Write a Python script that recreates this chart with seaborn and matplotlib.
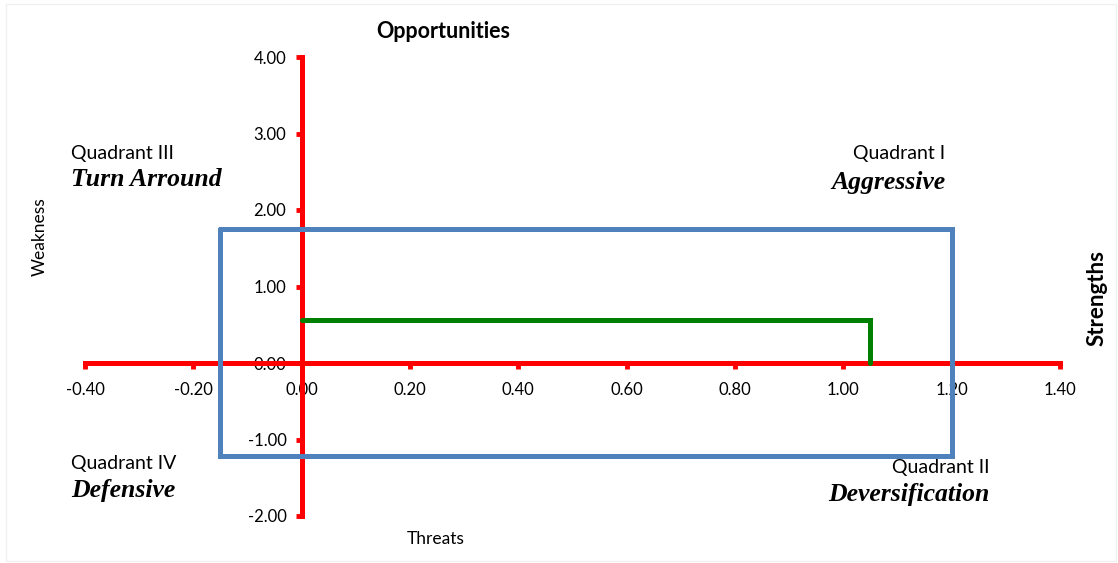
import matplotlib
matplotlib.use('Agg')
import matplotlib.pyplot as plt
import seaborn as sns
import numpy as np
import pandas as pd
from matplotlib.patches import Rectangle

# Data
x_ticks = [-0.40, -0.20, 0.00, 0.20, 0.40, 0.60, 0.80, 1.00, 1.20, 1.40]
y_ticks = [-2.00, -1.00, 0.00, 1.00, 2.00, 3.00, 4.00]
box_x = [-0.15, 1.20, 1.20, -0.15, -0.15]
box_y = [1.75, 1.75, -1.22, -1.22, 1.75]
pos_x = [0.00, 1.05, 1.05]
pos_y = [0.56, 0.56, 0.00]

sns.set_theme(style="white")
plt.rcParams['font.family'] = ['Lato', 'DejaVu Sans']
plt.rcParams['text.color'] = 'black'

fig = plt.figure(figsize=(11.18, 5.63), dpi=100)
ax = fig.add_axes([85 / 1118, 1 - 516 / 563, (1060 - 85) / 1118, (516 - 57) / 563])
ax.set_facecolor('none')

# thin chart border like excel
fig.patches.append(Rectangle((6 / 1118, 2 / 563), 1 - 8 / 1118, 1 - 6 / 563,
                             transform=fig.transFigure, fill=False,
                             edgecolor='#f0f0f0', linewidth=1))

box_df = pd.DataFrame({'x': box_x, 'y': box_y})
pos_df = pd.DataFrame({'x': pos_x, 'y': pos_y})
sns.lineplot(data=box_df, x='x', y='y', sort=False, estimator=None, ax=ax,
             color='#4f81bd', linewidth=3.6, zorder=4)
sns.lineplot(data=pos_df, x='x', y='y', sort=False, estimator=None, ax=ax,
             color='#008000', linewidth=3.6, zorder=5)
for line in ax.lines:
    line.set_clip_on(False)
    line.set_solid_joinstyle('miter')

ax.set_xlim(-0.40, 1.40)
ax.set_ylim(-2.00, 4.00)
ax.set_xticks(x_ticks)
ax.set_yticks(y_ticks)
ax.set_xticklabels([f'{v:.2f}' for v in x_ticks])
ax.set_yticklabels([f'{v:.2f}' for v in y_ticks])

for side in ['top', 'right']:
    ax.spines[side].set_visible(False)
for side in ['left', 'bottom']:
    ax.spines[side].set_position(('data', 0))
    ax.spines[side].set_color('red')
    ax.spines[side].set_linewidth(3.6)
    ax.spines[side].set_zorder(3)

ax.tick_params(axis='x', bottom=True, colors='red', direction='out', length=4, width=3.5,
               pad=10, labelsize=12, labelcolor='black')
ax.tick_params(axis='y', left=True, colors='red', direction='out', length=4, width=3.5,
               pad=7, labelsize=12, labelcolor='black')
ax.set_xlabel('')
ax.set_ylabel('')
ax.grid(False)

# axis titles
fig.text(443 / 1118, 1 - 32 / 563, 'Opportunities', ha='center', va='center',
         fontsize=15.5, fontweight='bold')
fig.text(436 / 1118, 1 - 539 / 563, 'Threats', ha='center', va='center', fontsize=12.5)
fig.text(40 / 1118, 1 - 237 / 563, 'Weakness', ha='center', va='center',
         fontsize=12.5, rotation=90)
fig.text(1097 / 1118, 1 - 298 / 563, 'Strengths', ha='center', va='center',
         fontsize=16, fontweight='bold', rotation=90)

# quadrant labels
serif = ['Liberation Serif', 'DejaVu Serif']
quads = [
    (71, 154, 180, 'left', 'Quadrant III', 'Turn Arround'),
    (945, 154, 182, 'right', 'Quadrant I', 'Aggressive'),
    (71, 464, 491, 'left', 'Quadrant IV', 'Defensive'),
    (990, 467, 494, 'right', 'Quadrant II', 'Deversification'),
]
for qx, y1, y2, ha, name, strat in quads:
    fig.text(qx / 1118, 1 - y1 / 563, name, ha=ha, va='center', fontsize=14)
    fig.text(qx / 1118, 1 - y2 / 563, strat, ha=ha, va='center', fontsize=18.5,
             fontweight='bold', fontstyle='italic', family=serif)

fig.savefig('out.png', dpi=100, facecolor='white')
